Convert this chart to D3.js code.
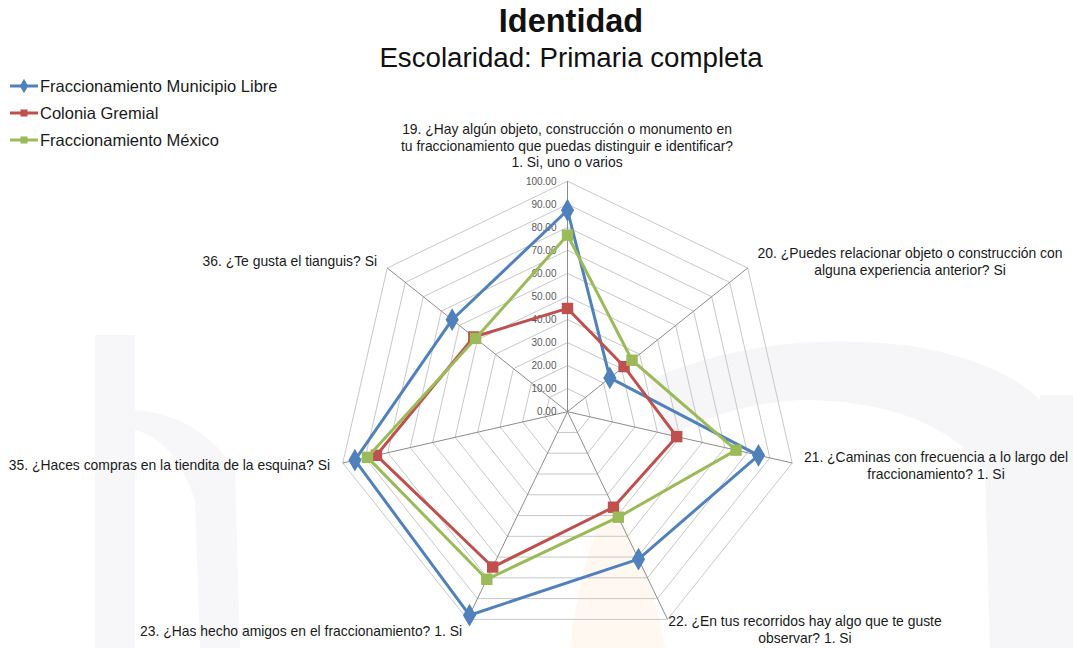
<!DOCTYPE html>
<html>
<head>
<meta charset="utf-8">
<script src="https://cdn.jsdelivr.net/npm/d3@7"></script>
<style>
  body { margin: 0; background: #fff; }
  svg { font-family: "Liberation Sans", Arial, sans-serif; }
</style>
</head>
<body>
<div id="chart"></div>
<script>
// preguntas (ejes), en sentido horario desde arriba
var categories = [
  ["19. ¿Hay algún objeto, construcción o monumento en", "tu fraccionamiento que puedas distinguir e identificar?", "1. Si, uno o varios"],
  ["20. ¿Puedes relacionar objeto o construcción con", "alguna experiencia anterior? Si"],
  ["21. ¿Caminas con frecuencia a lo largo del", "fraccionamiento? 1. Si"],
  ["22. ¿En tus recorridos hay algo que te guste", "observar? 1. Si"],
  ["23. ¿Has hecho amigos en el fraccionamiento? 1. Si"],
  ["35. ¿Haces compras en la tiendita de la esquina? Si"],
  ["36. ¿Te gusta el tianguis? Si"]
];

var seriesNames = ["Fraccionamiento Municipio Libre", "Colonia Gremial", "Fraccionamiento México"];
var municipioLibre = [87.4, 23.5, 85, 71, 98, 94.6, 64];
var coloniaGremial = [44.8, 31.4, 48.6, 46, 74.8, 85, 52];
var fraccMexico    = [76.6, 35.8, 75, 50.8, 80.7, 89, 51];

var tickValues = [0, 10, 20, 30, 40, 50, 60, 70, 80, 90, 100];

var w = 1073, h = 648;
var cx = 567.5, cy = 411.7, R = 230.5;
var colors = ["#4F81BD", "#C0504D", "#9BBB59"];
var shapes = [d3.symbolDiamond, d3.symbolSquare, d3.symbolSquare];

var svg = d3.select("#chart").append("svg")
  .attr("width", w).attr("height", h);

// marca de agua tenue del fondo
var wm = svg.append("g").attr("opacity", 0.45);
wm.append("path").attr("fill", "#eeeef2")
  .attr("d", "M95,335 L135,335 L135,648 L95,648 Z M135,410 Q200,415 235,470 L240,648 L200,648 L195,500 Q175,440 135,430 Z");
wm.append("path").attr("fill", "#ececf0")
  .attr("d", "M650,380 Q760,330 905,345 Q1000,360 1040,400 L1040,648 L990,648 L985,470 Q930,400 800,400 Q720,405 665,440 Z");
wm.append("path").attr("fill", "#ececf0")
  .attr("d", "M1040,395 L1073,395 L1073,648 L1040,648 Z");
wm.append("path").attr("fill", "#fdf0e0")
  .attr("d", "M610,500 Q650,560 665,648 L570,648 Q580,560 610,500 Z");

var r = d3.scaleLinear().domain([0, 100]).range([0, R]);
var n = categories.length;
var angle = function(i) { return i * 2 * Math.PI / n; };
var px = function(i, v) { return cx + r(v) * Math.sin(angle(i)); };
var py = function(i, v) { return cy - r(v) * Math.cos(angle(i)); };

var g = svg.append("g");

// anillos
g.selectAll(".ring").data(tickValues.slice(1)).enter()
  .append("polygon")
  .attr("fill", "none")
  .attr("stroke", "#c8c8c8")
  .attr("stroke-width", 1)
  .attr("points", function(t) {
    return d3.range(n).map(function(i) { return px(i, t) + "," + py(i, t); }).join(" ");
  });

// ejes
g.selectAll(".spoke").data(d3.range(n)).enter()
  .append("line")
  .attr("x1", cx).attr("y1", cy)
  .attr("x2", function(i) { return px(i, 100); })
  .attr("y2", function(i) { return py(i, 100); })
  .attr("stroke", "#8c8c8c").attr("stroke-width", 1);

// etiquetas de escala
g.selectAll(".tick").data(tickValues).enter()
  .append("text")
  .attr("x", cx - 11)
  .attr("y", function(t) { return cy - r(t) + 3.5; })
  .attr("text-anchor", "end")
  .attr("font-size", 10)
  .attr("fill", "#595959")
  .text(function(t) { return t.toFixed(2); });

// series
var allSeries = [municipioLibre, coloniaGremial, fraccMexico];
var radial = d3.lineRadial()
  .angle(function(d, i) { return angle(i); })
  .radius(function(d) { return r(d); })
  .curve(d3.curveLinearClosed);

allSeries.forEach(function(vals, s) {
  var sg = g.append("g");
  sg.append("path")
    .attr("transform", "translate(" + cx + "," + cy + ")")
    .attr("d", radial(vals))
    .attr("fill", "none")
    .attr("stroke", colors[s])
    .attr("stroke-width", 3)
    .attr("stroke-linejoin", "round");
  sg.selectAll("path.mk").data(vals).enter()
    .append("path")
    .attr("class", "mk")
    .attr("d", d3.symbol().type(shapes[s]).size(s == 0 ? 150 : 130))
    .attr("transform", function(d, i) { return "translate(" + px(i, d) + "," + py(i, d) + ")"; })
    .attr("fill", colors[s]);
});

// etiquetas de las preguntas
var labelPos = [
  {x: 567, y: 134, anchor: "middle"},
  {x: 910, y: 258, anchor: "middle"},
  {x: 936, y: 462, anchor: "middle"},
  {x: 805, y: 626, anchor: "middle"},
  {x: 462, y: 636, anchor: "end"},
  {x: 330, y: 470, anchor: "end"},
  {x: 377, y: 266, anchor: "end"}
];
categories.forEach(function(lines, i) {
  var t = svg.append("text")
    .attr("font-size", 13.9)
    .attr("fill", "#1a1a1a")
    .attr("text-anchor", labelPos[i].anchor);
  lines.forEach(function(l, k) {
    t.append("tspan").attr("x", labelPos[i].x).attr("y", labelPos[i].y + k * 16.5).text(l);
  });
});

// titulo
svg.append("text").attr("x", 571).attr("y", 32).attr("text-anchor", "middle")
  .attr("font-size", 32.5).attr("font-weight", "bold").attr("fill", "#111")
  .text("Identidad");
svg.append("text").attr("x", 571).attr("y", 67).attr("text-anchor", "middle")
  .attr("font-size", 27.7).attr("fill", "#111")
  .text("Escolaridad: Primaria completa");

// leyenda
var leg = svg.selectAll(".leg").data(seriesNames).enter()
  .append("g")
  .attr("transform", function(d, i) { return "translate(10," + (86 + i * 27) + ")"; });
leg.append("line").attr("x1", 0).attr("x2", 28).attr("y1", 0).attr("y2", 0)
  .attr("stroke", function(d, i) { return colors[i]; }).attr("stroke-width", 3);
leg.append("path")
  .attr("d", function(d, i) { return d3.symbol().type(shapes[i]).size(i == 0 ? 60 : 50)(); })
  .attr("transform", "translate(14,0)")
  .attr("fill", function(d, i) { return colors[i]; });
leg.append("text").attr("x", 30).attr("y", 6)
  .attr("font-size", 16.5).attr("fill", "#1a1a1a")
  .text(function(d) { return d; });
</script>
</body>
</html>
